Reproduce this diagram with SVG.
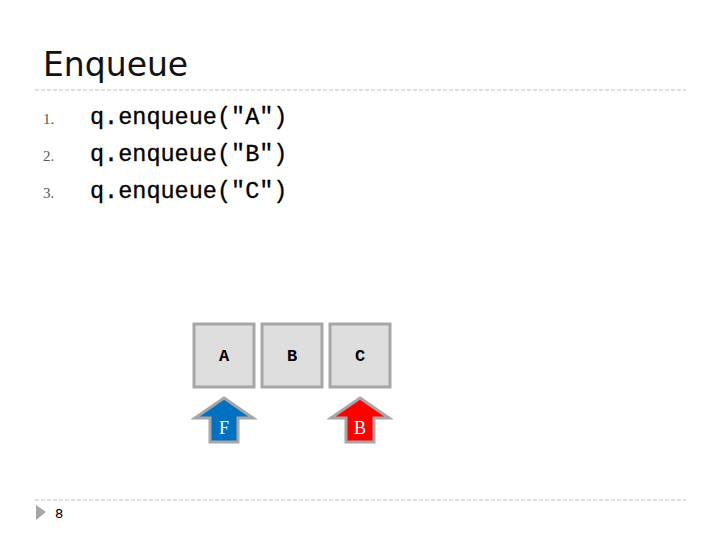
<svg xmlns="http://www.w3.org/2000/svg" width="720" height="540" viewBox="0 0 720 540">
<style>
.rule{stroke:#bdbdbd;stroke-width:1;stroke-dasharray:4 2;fill:none}
.num{font-family:"Liberation Serif",serif;font-size:15px;fill:#595959}
.code{font-family:"Liberation Mono",monospace;font-size:23.5px;fill:#000;stroke:#000;stroke-width:0.3}
.box{fill:#dedede;stroke:#a6a6a6;stroke-width:3}
.lbl{font-family:"Liberation Mono",monospace;font-size:17px;font-weight:bold;fill:#000;text-anchor:middle}
.arr{stroke:#a6a6a6;stroke-width:3;stroke-linejoin:miter}
.albl{font-family:"Liberation Serif",serif;font-size:18px;fill:#fff;text-anchor:middle}
</style>
<rect width="720" height="540" fill="#fff"/>
<text x="43" y="76" font-family="DejaVu Sans,sans-serif" font-size="33" fill="#111">Enqueue</text>
<line class="rule" x1="35" y1="90" x2="686" y2="90"/>
<text class="num" x="43" y="124">1.</text>
<text class="num" x="43" y="161">2.</text>
<text class="num" x="43" y="198">3.</text>
<text class="code" x="90" y="124">q.enqueue("A")</text>
<text class="code" x="90" y="161">q.enqueue("B")</text>
<text class="code" x="90" y="198">q.enqueue("C")</text>
<g id="nodeA"><rect class="box" x="194" y="324" width="60" height="63"/><text class="lbl" x="224" y="361">A</text></g>
<g id="nodeB"><rect class="box" x="262" y="324" width="60" height="63"/><text class="lbl" x="292" y="361">B</text></g>
<g id="nodeC"><rect class="box" x="330" y="324" width="60" height="63"/><text class="lbl" x="360" y="361">C</text></g>
<g id="front"><polygon class="arr" fill="#0070c0" points="224,398 253,418 238,418 238,442 210,442 210,418 195,418"/><text class="albl" x="224" y="434">F</text></g>
<g id="back"><polygon class="arr" fill="#ff0000" points="360,398 389,418 374,418 374,442 346,442 346,418 331,418"/><text class="albl" x="360" y="434">B</text></g>
<line class="rule" x1="35" y1="500" x2="686" y2="500"/>
<polygon points="36,505 46,512 36,520" fill="#a6a6a6"/>
<text x="55" y="518" font-family="DejaVu Sans,sans-serif" font-size="13" fill="#000">8</text>
</svg>
